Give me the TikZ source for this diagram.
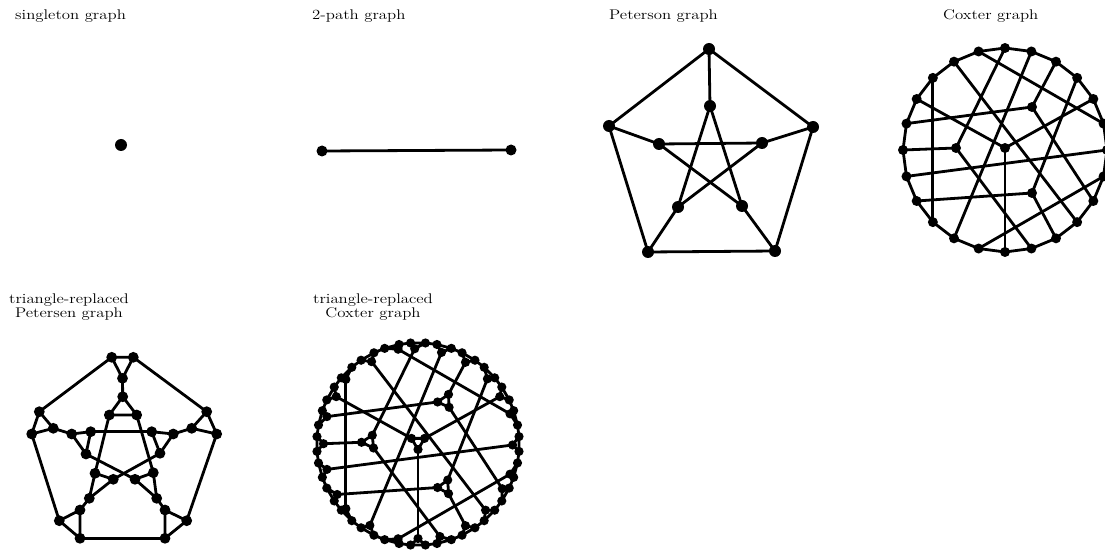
\documentclass[tikz,border=0pt]{standalone}
\usepackage{tikz}
\usetikzlibrary{calc}
\newcommand{\wide}[1]{\scalebox{1.2}[1]{#1}}

\begin{document}
\begin{tikzpicture}[x=1pt,y=-1pt,
    edge/.style={line width=2.8pt},
    lbl/.style={font=\fontsize{14}{12}\selectfont,inner sep=0pt}]
  \useasboundingbox (0,0) rectangle (1105,553);

  \node[lbl,anchor=base west] (ttl1) at (15,20) {\wide{singleton graph}};
  \node[lbl,anchor=base west] (ttl2) at (312,20) {\wide{2-path graph}};
  \node[lbl,anchor=base west] (ttl3) at (609,20) {\wide{Peterson graph}};
  \node[lbl,anchor=base west] (ttl4) at (943,20) {\wide{Coxter graph}};
  \node[lbl,anchor=north,align=center] (ttl5) at (69,294) {\wide{triangle-replaced}\\\wide{Petersen graph}};
  \node[lbl,anchor=north,align=center] (ttl6) at (373,294) {\wide{triangle-replaced}\\\wide{Coxter graph}};

  % singleton and 2-path
  \coordinate (s) at (121,145);
  \fill (s) circle (6pt);
  \coordinate (p1) at (322,151);
  \coordinate (p2) at (511,150);
  \draw[edge] (p1) -- (p2);
  \foreach \v in {p1,p2}
    \fill (\v) circle (5.5pt);

  % Petersen
  \foreach \n/\x/\y in {O1/709/49,O2/813/127,O3/775/251,O4/648/252,O5/609/126,
                        I1/710/106,I2/762/143,I3/742/206,I4/678/207,I5/659/144}
    \coordinate (\n) at (\x,\y);
  \foreach \a/\b in {O1/O2,O2/O3,O3/O4,O4/O5,O5/O1,O1/I1,O2/I2,O3/I3,O4/I4,O5/I5,
                     I1/I3,I3/I5,I5/I2,I2/I4,I4/I1}
    \draw[edge] (\a) -- (\b);
  \foreach \n in {O1,O2,O3,O4,O5,I1,I2,I3,I4,I5}
    \fill (\n) circle (6pt);

  % Coxeter
  \foreach \k in {0,...,23}
    \coordinate (c\k) at ($(1005,150)+({-90+15*\k}:102)$);
  \coordinate (cA) at (1032,107);
  \coordinate (cB) at (956,148);
  \coordinate (cC) at (1005,148);
  \coordinate (cD) at (1032,193);
  \foreach \k in {0,...,23}{
    \pgfmathtruncatemacro{\n}{mod(\k+1,24)}
    \draw[edge] (c\k) -- (c\n);
  }
  \foreach \a/\b in {21/15,22/9,1/14,17/6,13/7,23/5,A/2,A/8,A/19,B/0,B/11,B/18,
                     C/4,C/12,C/20,D/3,D/10,D/16}
    \draw[edge] (c\a) -- (c\b);
  \foreach \k in {0,...,23}
    \fill (c\k) circle (5pt);
  \foreach \k in {A,B,C,D}
    \fill (c\k) circle (5pt);

  % triangle-replaced Petersen
  \foreach \n/\x/\y in {q1a/111.7/357.3,q1b/133.3/357.3,q1c/122.5/378.3,
                        r1a/122.7/396.7,r1b/109.3/415,r1c/136.7/415,
                        q5a/39.3/411.7,q5b/31.7/434,q5c/53.3/428.3,
                        r5a/71.7/434,r5b/90.7/431.7,r5c/86/454,
                        q2a/206.7/411.7,q2b/216.7/434,q2c/191.7/428.3,
                        r2a/173.3/434,r2b/151.7/431.7,r2c/160/453.3,
                        r4a/89.3/498.3,r4b/95/473.3,r4c/113.3/479.3,
                        r3a/156.7/498.3,r3b/153.3/472.7,r3c/135/479.3,
                        q4a/80/510,q4b/59.3/520.7,q4c/80/538.3,
                        q3a/165/510,q3b/186.7/520.7,q3c/165/538.3}
    \coordinate (\n) at (\x,\y);
  \foreach \a/\b in {q1a/q5a,q1b/q2a,q1c/r1a,q5b/q4b,q5c/r5a,q2b/q3b,q2c/r2a,
                     q4c/q3c,q4a/r4a,q3a/r3a,r1b/r4b,r1c/r3b,r5b/r2b,r5c/r3c,r2c/r4c}
    \draw[edge] (\a) -- (\b);
  \foreach \t in {q1,r1,q2,r2,q3,r3,q4,r4,q5,r5}{
    \draw[edge,line join=round] (\t a) -- (\t b) -- (\t c) -- cycle;
    \foreach \s in {a,b,c}
      \fill (\t\s) circle (5.4pt);
  }

  % triangle-replaced Coxeter
  \foreach \k in {0,...,23}
    \coordinate (t\k) at ($(418,444)+({-90+15*\k}:102)$);
  \coordinate (tA) at (445,401);
  \coordinate (tB) at (369,442);
  \coordinate (tC) at (418,442);
  \coordinate (tD) at (445,487);
  \foreach \k/\m in {0/B,1/14,2/A,3/D,4/C,5/23,6/17,7/13,8/A,9/22,10/D,11/B,
                     12/C,13/7,14/1,15/21,16/D,17/6,18/B,19/A,20/C,21/15,22/9,23/5}{
    \pgfmathtruncatemacro{\p}{mod(\k+23,24)}
    \pgfmathtruncatemacro{\n}{mod(\k+1,24)}
    \coordinate (t\k-\p) at ($(t\k)!7.5pt!(t\p)$);
    \coordinate (t\k-\n) at ($(t\k)!7.5pt!(t\n)$);
    \coordinate (t\k-\m) at ($(t\k)!7.5pt!(t\m)$);
  }
  \foreach \v/\x/\y/\z in {A/2/8/19,B/0/11/18,C/4/12/20,D/3/10/16}{
    \coordinate (t\v-\x) at ($(t\v)!7.5pt!(t\x)$);
    \coordinate (t\v-\y) at ($(t\v)!7.5pt!(t\y)$);
    \coordinate (t\v-\z) at ($(t\v)!7.5pt!(t\z)$);
  }
  \foreach \k in {0,...,23}{
    \pgfmathtruncatemacro{\n}{mod(\k+1,24)}
    \draw[edge] (t\k-\n) -- (t\n-\k);
  }
  \foreach \a/\b in {21/15,22/9,1/14,17/6,13/7,23/5,A/2,A/8,A/19,B/0,B/11,B/18,
                     C/4,C/12,C/20,D/3,D/10,D/16}
    \draw[edge] (t\a-\b) -- (t\b-\a);
  \foreach \k/\m in {0/B,1/14,2/A,3/D,4/C,5/23,6/17,7/13,8/A,9/22,10/D,11/B,
                     12/C,13/7,14/1,15/21,16/D,17/6,18/B,19/A,20/C,21/15,22/9,23/5}{
    \pgfmathtruncatemacro{\p}{mod(\k+23,24)}
    \pgfmathtruncatemacro{\n}{mod(\k+1,24)}
    \draw[edge,line join=round] (t\k-\p) -- (t\k-\n) -- (t\k-\m) -- cycle;
    \foreach \e in {\p,\n,\m}
      \fill (t\k-\e) circle (4.6pt);
  }
  \foreach \v/\x/\y/\z in {A/2/8/19,B/0/11/18,C/4/12/20,D/3/10/16}{
    \draw[edge,line join=round] (t\v-\x) -- (t\v-\y) -- (t\v-\z) -- cycle;
    \foreach \e in {\x,\y,\z}
      \fill (t\v-\e) circle (4.6pt);
  }
\end{tikzpicture}
\end{document}
